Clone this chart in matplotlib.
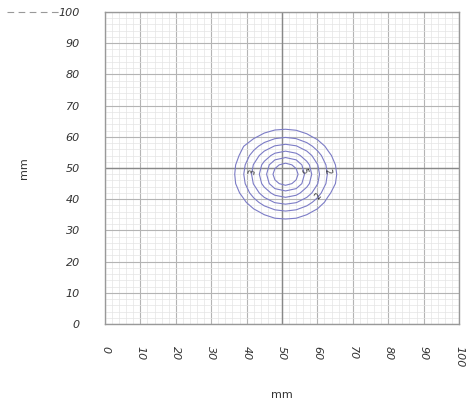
import matplotlib
matplotlib.use("Agg")
import matplotlib.pyplot as plt
import numpy as np

x_mm = [33, 36, 39, 42, 45, 48, 51, 54, 57, 60, 63, 66, 69]
y_mm = [30, 33, 36, 39, 42, 45, 48, 51, 54, 57, 60, 63, 66]
z_vals = [
    [0.00, 0.00, 0.00, 0.00, 0.00, 0.00, 0.00, 0.00, 0.00, 0.00, 0.00, 0.00, 0.00],
    [0.00, 0.00, 0.00, 0.13, 0.46, 0.68, 0.75, 0.68, 0.46, 0.13, 0.00, 0.00, 0.00],
    [0.00, 0.00, 0.26, 0.75, 1.26, 1.74, 1.91, 1.74, 1.26, 0.75, 0.26, 0.00, 0.00],
    [0.00, 0.13, 0.75, 1.58, 2.45, 3.05, 3.27, 3.05, 2.45, 1.58, 0.70, 0.10, 0.00],
    [0.00, 0.46, 1.26, 2.45, 3.50, 4.31, 4.64, 4.31, 3.50, 2.45, 1.20, 0.40, 0.00],
    [0.00, 0.68, 1.74, 3.05, 4.31, 5.80, 6.30, 5.80, 4.31, 3.05, 1.74, 0.68, 0.00],
    [0.00, 0.75, 1.91, 3.27, 4.64, 6.30, 7.60, 6.30, 4.64, 3.27, 1.91, 0.80, 0.00],
    [0.00, 0.68, 1.74, 3.05, 4.31, 5.80, 6.30, 5.80, 4.31, 3.05, 1.74, 0.68, 0.00],
    [0.00, 0.50, 1.30, 2.45, 3.50, 4.31, 4.64, 4.31, 3.50, 2.45, 1.26, 0.46, 0.00],
    [0.00, 0.20, 0.95, 1.62, 2.45, 3.05, 3.27, 3.05, 2.45, 1.58, 0.75, 0.13, 0.00],
    [0.00, 0.00, 0.30, 0.85, 1.30, 1.74, 1.91, 1.74, 1.26, 0.75, 0.26, 0.00, 0.00],
    [0.00, 0.00, 0.00, 0.20, 0.55, 0.72, 0.78, 0.68, 0.46, 0.13, 0.00, 0.00, 0.00],
    [0.00, 0.00, 0.00, 0.00, 0.00, 0.00, 0.00, 0.00, 0.00, 0.00, 0.00, 0.00, 0.00],
]
levels = [1, 2, 3, 4, 5, 6]
label_pos = [(41, 49), (56, 49), (62, 49), (60, 41)]
ticks = list(range(0, 101, 10))

fig = plt.figure(figsize=(4.66, 4.09), dpi=100)
ax = fig.add_axes([0.2253, 0.2078, 0.7597, 0.7629])

ax.set_xlim(0, 100)
ax.set_ylim(0, 100)
ax.set_xticks(ticks)
ax.set_yticks(ticks)
ax.set_xticks(np.arange(0, 101, 2), minor=True)
ax.set_yticks(np.arange(0, 101, 2), minor=True)
ax.grid(which="major", color="#b4b4b4", linewidth=0.8)
ax.grid(which="minor", color="#e4e4e4", linewidth=0.5)
ax.axhline(50, color="#888888", linewidth=1.0)
ax.axvline(50, color="#888888", linewidth=1.0)
ax.set_axisbelow(True)

X, Y = np.meshgrid(x_mm, y_mm)
cs = ax.contour(X, Y, np.array(z_vals), levels=levels,
                colors="#7c7cc6", linewidths=0.8)
ax.clabel(cs, fontsize=6, colors="#333333", fmt="%d",
          manual=label_pos, inline=False)

for side in ax.spines.values():
    side.set_color("#999999")
    side.set_linewidth(1.0)

ax.tick_params(which="both", length=0)
ax.tick_params(axis="y", pad=18, labelsize=8, labelcolor="#333333")
ax.tick_params(axis="x", pad=16, labelsize=8, labelcolor="#333333")
for lab in ax.get_yticklabels():
    lab.set_fontstyle("italic")
for lab in ax.get_xticklabels():
    lab.set_rotation(-90)
    lab.set_fontstyle("italic")

ax.set_xlabel("mm", fontsize=8, color="#333333", labelpad=16)
ax.set_ylabel("mm", fontsize=8, color="#333333", labelpad=21)

# dashed leader at the top left, as in the reference
fig.add_artist(plt.Line2D([0.015, 0.135], [0.971, 0.971], color="#999999",
                          linewidth=0.8, linestyle=(0, (6, 4))))

fig.savefig("out.png", dpi=100)
